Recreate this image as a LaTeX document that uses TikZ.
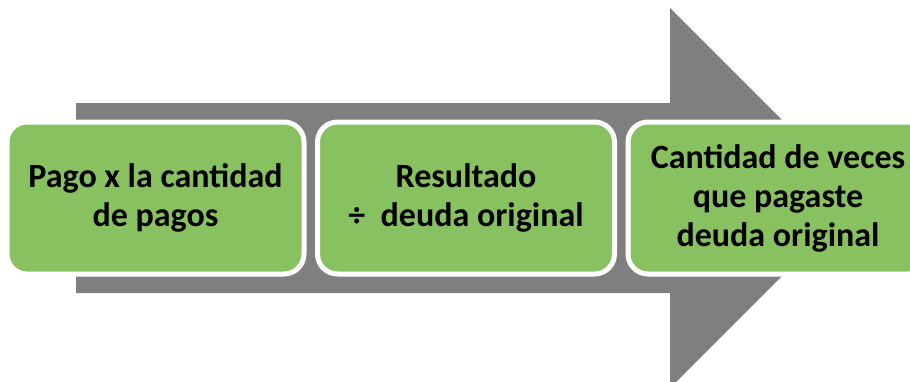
\documentclass[tikz,border=0pt]{standalone}
\usepackage{fontspec}
\setmainfont{Carlito}
\definecolor{boxgreen}{RGB}{136,193,95}
\definecolor{arrowgray}{RGB}{127,127,127}
\tikzset{
  stagebox/.style={draw=white, line width=5pt, fill=boxgreen, rounded corners=20pt,
    minimum width=297pt, minimum height=152pt, inner sep=0pt,
    align=center, font=\fontsize{34}{39}\selectfont\bfseries, text=black},
}
\begin{document}
\begin{tikzpicture}[x=1pt,y=-1pt]
\useasboundingbox (0,0) rectangle (910,381);
\clip (0,0) rectangle (910,381);
\fill[arrowgray] (76,103) -- (670,103) -- (670,8) -- (860,198) -- (670,388) -- (670,293) -- (76,293) -- cycle;
\node[stagebox] (b1) at (155.5,198) {Pago x la cantidad\\de pagos};
\node[stagebox] (b2) at (466,198) {Resultado \\÷\ \ deuda original};
\node[stagebox, minimum width=300pt] (b3) at (778,198) {Cantidad de veces\\que pagaste\\deuda original};
\end{tikzpicture}
\end{document}
